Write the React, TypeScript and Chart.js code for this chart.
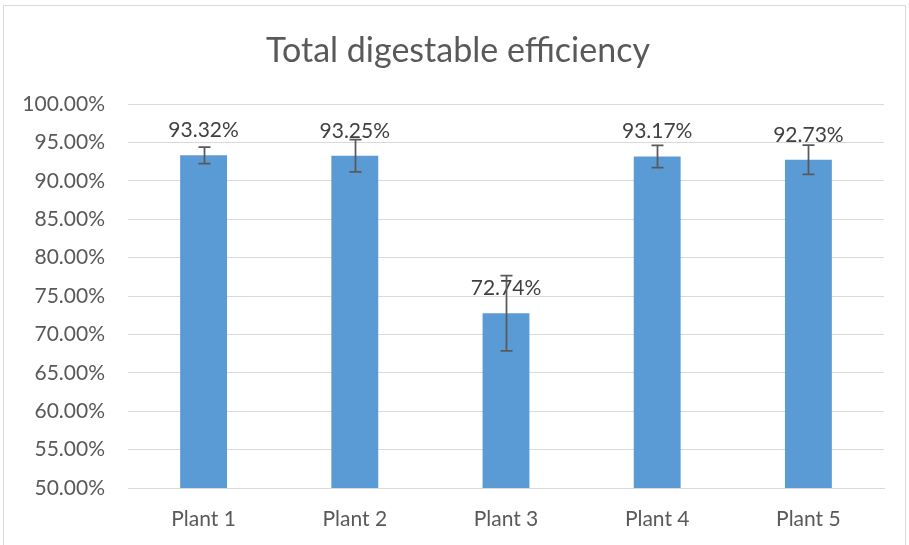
import React, { useEffect, useRef } from "react";
import { Chart, registerables } from "chart.js";

Chart.register(...registerables);

const TITLE = "Total digestable efficiency";
const categories = ["Plant 1", "Plant 2", "Plant 3", "Plant 4", "Plant 5"];
const values = [93.32, 93.25, 72.74, 93.17, 92.73];
const errors = [1.08, 2.1, 4.9, 1.45, 1.9];
const yMin = 50;
const yMax = 100;
const yStep = 5;

const FONT = "Lato, 'Open Sans', sans-serif";

const framePlugin = {
  id: "frame",
  beforeDraw(chart: any) {
    const ctx = chart.ctx;
    ctx.save();
    ctx.fillStyle = "#ffffff";
    ctx.fillRect(0, 0, chart.width, chart.height);
    ctx.strokeStyle = "#d9d9d9";
    ctx.lineWidth = 1;
    ctx.strokeRect(3.5, 5.5, 902, 600);
    ctx.fillStyle = "#595959";
    ctx.font = `34px ${FONT}`;
    ctx.textAlign = "center";
    ctx.textBaseline = "alphabetic";
    ctx.fillText(TITLE, 458, 62);
    ctx.restore();
  },
};

const overlayPlugin = {
  id: "overlay",
  afterDatasetsDraw(chart: any) {
    const ctx = chart.ctx;
    const meta = chart.getDatasetMeta(0);
    const y = chart.scales.y;
    ctx.save();
    ctx.fillStyle = "#404040";
    ctx.font = `21px ${FONT}`;
    ctx.textAlign = "center";
    ctx.textBaseline = "alphabetic";
    meta.data.forEach((bar: any, i: number) => {
      ctx.fillText(values[i].toFixed(2) + "%", bar.x, bar.y - 18);
    });
    ctx.strokeStyle = "#595959";
    ctx.lineWidth = 1.75;
    meta.data.forEach((bar: any, i: number) => {
      const top = y.getPixelForValue(values[i] + errors[i]);
      const bot = y.getPixelForValue(values[i] - errors[i]);
      const x = Math.round(bar.x) + 0.5;
      ctx.beginPath();
      ctx.moveTo(x, top);
      ctx.lineTo(x, bot);
      ctx.moveTo(x - 6, top);
      ctx.lineTo(x + 6, top);
      ctx.moveTo(x - 6, bot);
      ctx.lineTo(x + 6, bot);
      ctx.stroke();
    });
    ctx.restore();
  },
};

export default function App() {
  const ref = useRef<HTMLCanvasElement>(null);
  useEffect(() => {
    if (!ref.current) return;
    const chart = new Chart(ref.current, {
      type: "bar",
      data: {
        labels: categories,
        datasets: [
          {
            data: values,
            backgroundColor: "#5b9bd5",
            barPercentage: 0.31,
            categoryPercentage: 1,
          },
        ],
      },
      options: {
        animation: false,
        responsive: false,
        maintainAspectRatio: false,
        layout: { padding: { top: 104, right: 25, bottom: 0, left: 0 } },
        plugins: {
          legend: { display: false },
          title: { display: false },
          tooltip: { enabled: false },
        },
        scales: {
          x: {
            grid: { display: false, drawTicks: false },
            border: { display: true, color: "#d9d9d9" },
            ticks: { color: "#595959", font: { family: FONT, size: 21 }, padding: 19 },
            afterFit(scale: any) {
              scale.height = 57;
            },
          },
          y: {
            min: yMin,
            max: yMax,
            ticks: {
              stepSize: yStep,
              color: "#595959",
              font: { family: FONT, size: 21 },
              padding: 23,
              callback: (v: any) => Number(v).toFixed(2) + "%",
            },
            grid: { color: "#d9d9d9", drawTicks: false },
            border: { display: false },
            afterFit(scale: any) {
              scale.width = 128;
            },
          },
        },
      },
      plugins: [framePlugin, overlayPlugin],
    });
    return () => chart.destroy();
  }, []);
  return (
    <canvas
      ref={ref}
      width={909}
      height={545}
      style={{ position: "absolute", left: 0, top: 0, width: 909, height: 545 }}
    />
  );
}
